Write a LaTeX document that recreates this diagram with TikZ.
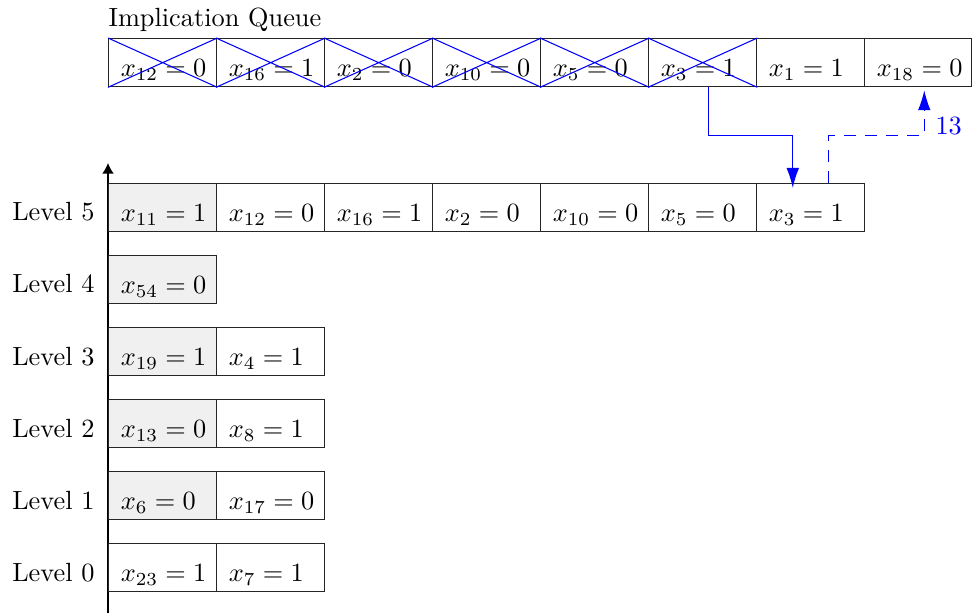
\documentclass[tikz,border=0pt]{standalone}
\usetikzlibrary{arrows.meta,calc}
\newcommand\cv[1]{\makebox[31.8pt][l]{$#1$}}
\begin{document}
\begin{tikzpicture}[x=0.38pt,y=-0.38pt,
  cell/.style={draw=black!85,line width=0.5pt,anchor=north west,minimum width=41.04pt,minimum height=18.24pt,
     inner xsep=4.6pt,inner ysep=0pt,text height=10.8pt,text depth=0.3pt},
  dec/.style={cell,fill=black!6},
  lvl/.style={anchor=base east,inner sep=0pt},
  cross/.style={blue,line width=0.4pt},
  flow/.style={blue,line width=0.5pt,-{Latex[length=7.6pt,width=4.8pt]}},
  ret/.style={flow,dash pattern=on 4.6pt off 3.4pt}]
\useasboundingbox (0,0) rectangle (972,613);
% axis
\coordinate (axb) at (108,613);
\coordinate (axt) at (108,163);
\draw[line width=0.5pt,-{Latex[length=4pt,width=4.4pt]}] (axb) -- (axt);
% title
\node[anchor=base west,inner sep=0pt] (title) at (108,27) {Implication Queue};
% queue
\node[cell] (q1) at (108,38) {\cv{x_{12}=0}};
\node[cell] (q2) at (216,38) {\cv{x_{16}=1}};
\node[cell] (q3) at (324,38) {\cv{x_{2}=0}};
\node[cell] (q4) at (432,38) {\cv{x_{10}=0}};
\node[cell] (q5) at (540,38) {\cv{x_{5}=0}};
\node[cell] (q6) at (648,38) {\cv{x_{3}=1}};
\node[cell] (q7) at (756,38) {\cv{x_{1}=1}};
\node[cell,minimum width=40.7pt] (q8) at (864,38) {\makebox[31.4pt][l]{$x_{18}=0$}};
\foreach \q in {q1,q2,q3,q4,q5,q6}{
  \draw[cross] (\q.north west) -- (\q.south east) (\q.south west) -- (\q.north east);
}
% level 5
\node[lvl] (L5) at (95,221) {Level 5};
\node[dec]  (a1) at (108,183) {\cv{x_{11}=1}};
\node[cell] (a2) at (216,183) {\cv{x_{12}=0}};
\node[cell] (a3) at (324,183) {\cv{x_{16}=1}};
\node[cell] (a4) at (432,183) {\cv{x_{2}=0}};
\node[cell] (a5) at (540,183) {\cv{x_{10}=0}};
\node[cell] (a6) at (648,183) {\cv{x_{5}=0}};
\node[cell] (a7) at (756,183) {\cv{x_{3}=1}};
% level 4
\node[lvl] (L4) at (95,293) {Level 4};
\node[dec]  (b1) at (108,255) {\cv{x_{54}=0}};
% level 3
\node[lvl] (L3) at (95,365) {Level 3};
\node[dec]  (c1) at (108,327) {\cv{x_{19}=1}};
\node[cell] (c2) at (216,327) {\cv{x_{4}=1}};
% level 2
\node[lvl] (L2) at (95,437) {Level 2};
\node[dec]  (d1) at (108,399) {\cv{x_{13}=0}};
\node[cell] (d2) at (216,399) {\cv{x_{8}=1}};
% level 1
\node[lvl] (L1) at (95,509) {Level 1};
\node[dec]  (e1) at (108,471) {\cv{x_{6}=0}};
\node[cell] (e2) at (216,471) {\cv{x_{17}=0}};
% level 0
\node[lvl] (L0) at (95,581) {Level 0};
\node[cell] (f1) at (108,543) {\cv{x_{23}=1}};
\node[cell] (f2) at (216,543) {\cv{x_{7}=1}};
% flows
\coordinate (mid) at (0,135.5);
\coordinate (s1) at ([xshift=2.3pt]q6.south);
\coordinate (e1p) at ([xshift=-6.8pt,yshift=-1.9pt]a7.north);
\draw[flow] (s1) -- (s1 |- mid) -| (e1p);
\coordinate (s2) at ([xshift=6.8pt]a7.north);
\coordinate (e2p) at ([xshift=2.3pt,yshift=-1.1pt]q8.south);
\draw[ret] (s2) -- (s2 |- mid) -| (e2p);
\node[blue,anchor=west,inner sep=0pt] (lab) at (935,126) {13};
\end{tikzpicture}
\end{document}
